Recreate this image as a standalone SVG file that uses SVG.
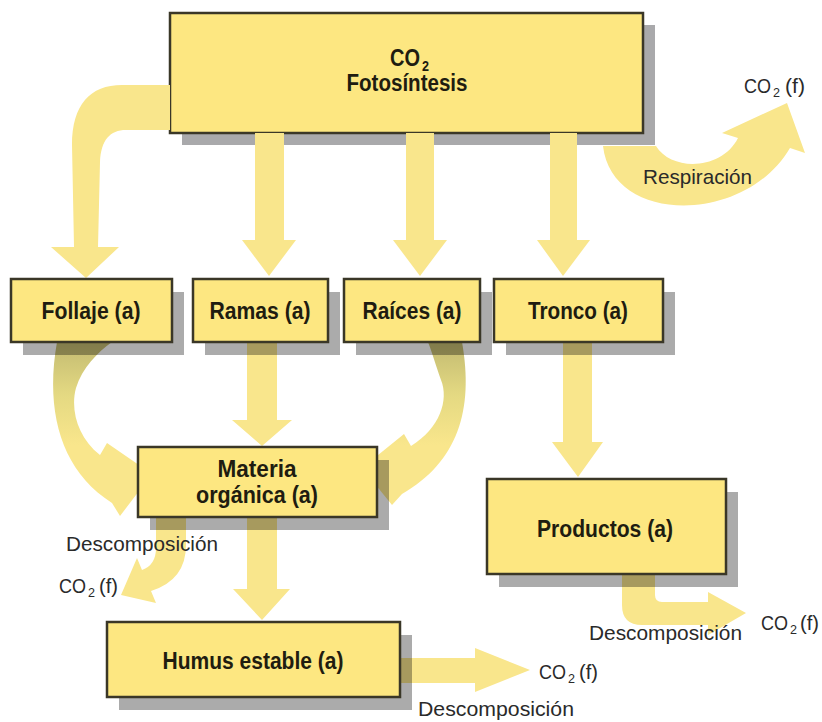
<svg xmlns="http://www.w3.org/2000/svg" width="822" height="722" viewBox="0 0 822 722">
  <defs>
    <style>
      .box { fill: #fde781; stroke: #3a3727; stroke-width: 2.5; }
      .shadow-solid { fill: #a9a9ab; }
      .shadow { fill: #000; fill-opacity: 0.33; }
      .arrow { fill: #f9e68c; }
      .lbl { font-family: "Liberation Sans", Arial, sans-serif; font-weight: bold; font-size: 23px; fill: #201c10; text-anchor: middle; }
      .note { font-family: "Liberation Sans", Arial, sans-serif; font-size: 21px; fill: #2a2a2a; }
      .sub { font-family: "Liberation Sans", Arial, sans-serif; font-size: 13px; fill: #2a2a2a; }
      .subb { font-family: "Liberation Sans", Arial, sans-serif; font-size: 14px; font-weight: bold; fill: #201c10; }
    </style>
    <linearGradient id="twistL" gradientUnits="userSpaceOnUse" x1="0" y1="345" x2="0" y2="445">
      <stop offset="0" stop-color="#c4bc72"/>
      <stop offset="0.5" stop-color="#e4d982"/>
      <stop offset="1" stop-color="#f9e68c"/>
    </linearGradient>
  </defs>

  <g id="fotosintesis">
    <rect class="shadow-solid" x="182" y="25" width="473" height="120"/>
    <rect class="box" x="170" y="13" width="473" height="120"/>
    <text class="lbl" x="390" y="66" style="text-anchor:start" textLength="30" lengthAdjust="spacingAndGlyphs">CO</text>
    <text class="subb" x="422" y="71" textLength="7" lengthAdjust="spacingAndGlyphs">2</text>
    <text class="lbl" x="407" y="91" textLength="121" lengthAdjust="spacingAndGlyphs">Fotosíntesis</text>
  </g>

  <g id="connectors">
    <path class="arrow" d="M170,85 L122,85 C90,85 72,105 72,145 L74,247 L51,247 L86,278 L119,247 L98,247 L100,162 C101,140 110,130 126,130 L170,130 Z"/>
    <path class="arrow" d="M255,133 L284,133 L284,240 L296,240 L269,276 L242,240 L255,240 Z"/>
    <path class="arrow" d="M406,133 L434,133 L434,240 L447,240 L420,276 L393,240 L406,240 Z"/>
    <path class="arrow" d="M550,133 L577,133 L577,240 L590,240 L563,276 L537,240 L550,240 Z"/>
    <path class="arrow" d="M603,146 C612,225 745,225 790,148 L805,153 L787,103 L722,133 L738,138 C722,170 672,172 656,146 Z"/>
    <path fill="url(#twistL)" d="M57,342 C45,410 60,470 112,503 L120,516 L152,474 L107,443 L100,455 C78,438 70,410 76,388 C82,368 98,352 112,342 Z"/>
    <path fill="url(#twistL)" d="M462,342 C474,410 458,462 402,494 L392,505 L362,468 L404,434 L411,446 C440,428 449,400 441,380 C436,366 432,352 428,342 Z"/>
    <path class="arrow" d="M247,342 L277,342 L277,420 L292,420 L262,446 L232,420 L247,420 Z"/>
    <path class="arrow" d="M563,342 L592,342 L592,442 L603,442 L578,477 L552,442 L563,442 Z"/>
    <path class="arrow" d="M247,517 L277,517 L277,589 L290,589 L262,620 L233,589 L247,589 Z"/>
    <path class="arrow" d="M156,517 L156,548 Q156,565 142,570 L137,558 L121,595 L156,603 L151,591 Q186,580 186,545 L186,517 Z"/>
    <path class="arrow" d="M400,658 L475,658 L475,648 L530,670 L475,692 L475,683 L400,683 Z"/>
    <path class="arrow" d="M622,574 L622,605 Q622,625 642,625 L708,625 L708,635 L746,613 L708,592 L708,602 L662,602 Q655,602 655,595 L655,574 Z"/>
  </g>

  <g id="follaje">
    <rect class="shadow" x="23" y="292" width="161" height="63"/>
    <rect class="box" x="11" y="279" width="161" height="63"/>
    <text class="lbl" x="91" y="319" textLength="99" lengthAdjust="spacingAndGlyphs">Follaje (a)</text>
  </g>
  <g id="ramas">
    <rect class="shadow" x="205" y="292" width="135" height="63"/>
    <rect class="box" x="193" y="279" width="135" height="63"/>
    <text class="lbl" x="260" y="319" textLength="101" lengthAdjust="spacingAndGlyphs">Ramas (a)</text>
  </g>
  <g id="raices">
    <rect class="shadow" x="356" y="292" width="136" height="63"/>
    <rect class="box" x="344" y="279" width="136" height="63"/>
    <text class="lbl" x="412" y="319" textLength="99" lengthAdjust="spacingAndGlyphs">Raíces (a)</text>
  </g>
  <g id="tronco">
    <rect class="shadow" x="506" y="292" width="169" height="63"/>
    <rect class="box" x="494" y="279" width="169" height="63"/>
    <text class="lbl" x="578" y="319" textLength="100" lengthAdjust="spacingAndGlyphs">Tronco (a)</text>
  </g>
  <g id="materia">
    <rect class="shadow" x="150" y="460" width="239" height="70"/>
    <rect class="box" x="138" y="447" width="239" height="70"/>
    <text class="lbl" x="257" y="477" textLength="79" lengthAdjust="spacingAndGlyphs">Materia</text>
    <text class="lbl" x="257" y="503" textLength="122" lengthAdjust="spacingAndGlyphs">orgánica (a)</text>
  </g>
  <g id="productos">
    <rect class="shadow" x="499" y="492" width="239" height="95"/>
    <rect class="box" x="487" y="479" width="239" height="95"/>
    <text class="lbl" x="605" y="537" textLength="136" lengthAdjust="spacingAndGlyphs">Productos (a)</text>
  </g>
  <g id="humus">
    <rect class="shadow" x="119" y="635" width="293" height="75"/>
    <rect class="box" x="107" y="622" width="293" height="75"/>
    <text class="lbl" x="253" y="669" textLength="181" lengthAdjust="spacingAndGlyphs">Humus estable (a)</text>
  </g>

  <g id="labels">
    <text class="note" x="643" y="184" textLength="109" lengthAdjust="spacingAndGlyphs">Respiración</text>

    <text class="note" x="744" y="93" textLength="27" lengthAdjust="spacingAndGlyphs">CO</text>
    <text class="sub" x="773" y="97" textLength="7" lengthAdjust="spacingAndGlyphs">2</text>
    <text class="note" x="785" y="93" textLength="20" lengthAdjust="spacingAndGlyphs">(f)</text>

    <text class="note" x="66" y="551" textLength="152" lengthAdjust="spacingAndGlyphs">Descomposición</text>

    <text class="note" x="59" y="593" textLength="27" lengthAdjust="spacingAndGlyphs">CO</text>
    <text class="sub" x="88" y="597" textLength="7" lengthAdjust="spacingAndGlyphs">2</text>
    <text class="note" x="99" y="593" textLength="19" lengthAdjust="spacingAndGlyphs">(f)</text>

    <text class="note" x="589" y="640" textLength="153" lengthAdjust="spacingAndGlyphs">Descomposición</text>

    <text class="note" x="761" y="630" textLength="27" lengthAdjust="spacingAndGlyphs">CO</text>
    <text class="sub" x="790" y="634" textLength="7" lengthAdjust="spacingAndGlyphs">2</text>
    <text class="note" x="800" y="630" textLength="19" lengthAdjust="spacingAndGlyphs">(f)</text>

    <text class="note" x="539" y="679" textLength="27" lengthAdjust="spacingAndGlyphs">CO</text>
    <text class="sub" x="568" y="683" textLength="7" lengthAdjust="spacingAndGlyphs">2</text>
    <text class="note" x="579" y="679" textLength="19" lengthAdjust="spacingAndGlyphs">(f)</text>

    <text class="note" x="418" y="716" textLength="156" lengthAdjust="spacingAndGlyphs">Descomposición</text>
  </g>
</svg>
